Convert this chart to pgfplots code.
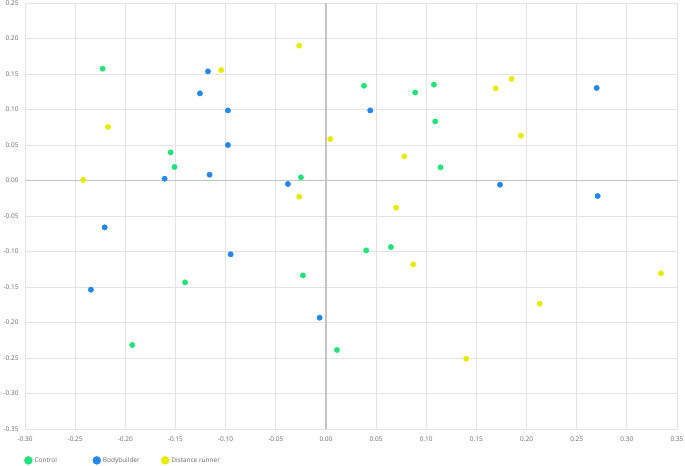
\documentclass[border=0pt]{standalone}
\usepackage{fontspec}
\setmainfont{Open Sans}
\usepackage{pgfplots}
\pgfplotsset{compat=1.18}
\definecolor{cctrl}{HTML}{22E27A}
\definecolor{cbody}{HTML}{2288EE}
\definecolor{crun}{HTML}{E6EB00}
\definecolor{gridc}{HTML}{E3E3E3}
\definecolor{zeroc}{HTML}{C4C4C4}
\definecolor{tickc}{HTML}{666666}
\begin{document}
\begin{tikzpicture}
\useasboundingbox (-25bp,-37bp) rectangle (660bp,429bp);
\begin{axis}[
  at={(0,0)}, anchor=south west,
  scale only axis, width=652bp, height=426bp,
  xmin=-0.30, xmax=0.35, ymin=-0.35, ymax=0.25,
  xtick={-0.30,-0.25,...,0.36}, ytick={-0.35,-0.30,...,0.26},
  grid=major, major grid style={gridc, line width=0.8pt},
  axis line style={gridc, line width=0.8pt},
  major tick length=0pt,
  tick label style={font=\fontsize{6.5}{8}\selectfont, text=tickc},
  /pgf/number format/assume math mode=true,
  xticklabel style={/pgf/number format/.cd, fixed, fixed zerofill, precision=2},
  yticklabel style={/pgf/number format/.cd, fixed, fixed zerofill, precision=2},
  xticklabel shift=4bp, yticklabel shift=3bp,
  legend columns=3,
  legend style={at={(rel axis cs:0,0)}, anchor=north west, xshift=-4bp, yshift=-24bp,
    draw=none, fill=none, font=\fontsize{6.5}{8}\selectfont, text=tickc,
    /tikz/every even column/.append style={column sep=0bp}},
  legend cell align=left,
  legend image code/.code={\fill[#1] (0.12cm,0) circle (4bp);},
  every axis plot/.append style={only marks, mark=*, mark size=2.7bp},
]
\draw[zeroc, line width=1.3pt] (axis cs:-0.30,0) -- (axis cs:0.35,0);
\draw[zeroc, line width=1.3pt] (axis cs:0,-0.35) -- (axis cs:0,0.25);
\addplot[cctrl, mark options={draw=cctrl, fill=cctrl}] coordinates {
(-0.2226,0.1575) (-0.1548,0.0396) (-0.1510,0.0190) (-0.0249,0.0044)
(0.0379,0.1335) (0.0890,0.1240) (0.1077,0.1350) (0.1090,0.0832)
(0.1143,0.0185) (0.0402,-0.0985) (0.0648,-0.0937) (-0.1404,-0.1435)
(-0.0229,-0.1337) (-0.1931,-0.2317) (0.0110,-0.2387)
};
\addlegendentry{\makebox[56bp][l]{Control}}
\addplot[cbody, mark options={draw=cbody, fill=cbody}] coordinates {
(-0.1176,0.1537) (-0.1256,0.1227) (-0.0977,0.0987) (-0.0977,0.0500)
(-0.1608,0.0025) (-0.1160,0.0082) (-0.0379,-0.0049) (-0.2206,-0.0660)
(0.0442,0.0987) (0.2699,0.1303) (0.1735,-0.0059) (0.2709,-0.0218)
(-0.0950,-0.1040) (-0.2343,-0.1538) (-0.0063,-0.1932)
};
\addlegendentry{\makebox[56bp][l]{Bodybuilder}}
\addplot[crun, mark options={draw=crun, fill=crun}] coordinates {
(-0.2420,0.0007) (-0.2173,0.0754) (-0.1044,0.1556) (-0.0266,0.1899)
(0.0043,0.0584) (-0.0266,-0.0228) (0.0781,0.0340) (0.1692,0.1297)
(0.1851,0.1430) (0.1944,0.0631) (0.0701,-0.0383) (0.0870,-0.1182)
(0.1399,-0.2510) (0.2131,-0.1735) (0.3340,-0.1308)
};
\addlegendentry{Distance runner}
\end{axis}
\end{tikzpicture}
\end{document}
